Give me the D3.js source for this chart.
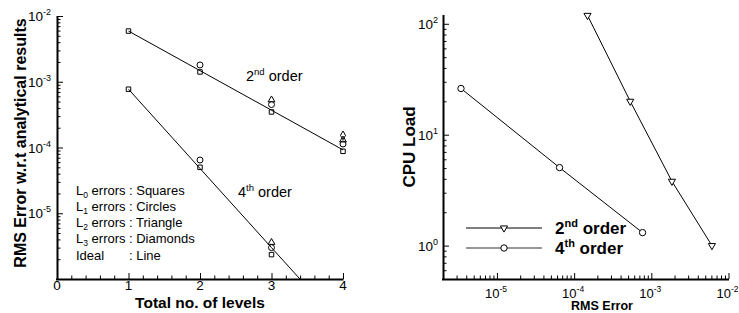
<!DOCTYPE html>
<html><head><meta charset="utf-8">
<script src="https://cdn.jsdelivr.net/npm/d3@7"></script>
<style>body{margin:0;background:#fff}svg{display:block}text{font-family:"Liberation Sans",Arial,Helvetica,sans-serif;fill:#000}</style>
</head><body>
<script>
// ---- Left chart data ----
const levels = [1, 2, 3, 4];
const L0_squares = [5.9e-3, 1.41e-3, 3.47e-4, 8.75e-5];
const L1_circles = [null, 1.8e-3, 4.5e-4, 1.13e-4];
const L2_triangles = [null, null, 5.3e-4, 1.3e-4];
const L3_diamonds = [null, null, null, 1.53e-4];
const L0_squares4 = [7.7e-4, 5.0e-5, 2.35e-6, null];
const L1_circles4 = [null, 6.45e-5, 3.0e-6, null];
const L2_triangles4 = [null, null, 3.6e-6, null];
const ideal2nd = [5.9e-3, 1.475e-3, 3.69e-4, 9.2e-5];
const ideal4th = [7.7e-4, 4.8e-5, 3.0e-6, 1.9e-7];
const xTicksLeft = [0, 1, 2, 3, 4];
const yTicksLeft = [-2, -3, -4, -5];
const legendLeft = [["0", "Squares"], ["1", "Circles"], ["2", "Triangle"], ["3", "Diamonds"]];

// ---- Right chart data ----
const rms2nd = [1.49e-4, 5.33e-4, 1.85e-3, 6.1e-3];
const cpu2nd = [119, 20, 3.8, 1.0];
const rms4th = [3.42e-6, 6.47e-5, 7.7e-4];
const cpu4th = [26.1, 5.05, 1.31];
const xTicksRight = [-5, -4, -3, -2];
const yTicksRight = [0, 1, 2];

const W = 739, H = 313;
const svg = d3.select("body").append("svg").attr("width", W).attr("height", H);

function supLabel(sel, base, exp, fs, efs, dy) {
  sel.append("tspan").text(base).attr("font-size", fs);
  sel.append("tspan").text(exp).attr("font-size", efs).attr("dy", -dy);
}

// ================= LEFT CHART =================
const xL = d3.scaleLinear().domain([0, 4]).range([57, 343]);
const yL = d3.scaleLog().domain([1e-6, 1e-2]).range([279, 16]);
const gL = svg.append("g");
svg.append("clipPath").attr("id", "clipL").append("rect")
  .attr("x", 57).attr("y", 10).attr("width", 290).attr("height", 269);

const minorYL = [];
for (let e = -6; e < -2; e++) for (let m = 2; m <= 9; m++) minorYL.push(m * Math.pow(10, e));
gL.append("g").attr("transform", "translate(57,0)")
  .call(d3.axisLeft(yL).tickValues(minorYL).tickSize(-3.5).tickFormat(""))
  .call(g => g.select(".domain").remove());
gL.append("g").attr("transform", "translate(57,0)")
  .call(d3.axisLeft(yL).tickValues(yTicksLeft.map(e => Math.pow(10, e))).tickSize(-6).tickFormat(""))
  .call(g => g.select(".domain").attr("stroke-width", 2).attr("d", "M0.5,16V279"));
const minorXL = d3.range(0, 4.01, 0.2).filter(v => Math.abs(v - Math.round(v)) > 1e-6);
gL.append("g").attr("transform", "translate(0,279)")
  .call(d3.axisBottom(xL).tickValues(minorXL).tickSize(-3.5).tickFormat(""))
  .call(g => g.select(".domain").remove());
gL.append("g").attr("transform", "translate(0,279)")
  .call(d3.axisBottom(xL).tickValues(xTicksLeft).tickSize(-6).tickFormat(""))
  .call(g => g.select(".domain").attr("stroke-width", 2).attr("d", "M56,0.5H343.5"));
gL.selectAll(".tick line").attr("stroke", "#000");

gL.selectAll(".xlabL").data(xTicksLeft).join("text")
  .attr("x", d => xL(d)).attr("y", 290).attr("text-anchor", "middle")
  .attr("font-size", 13.5).text(d => d);
gL.selectAll(".ylabL").data(yTicksLeft).join("text")
  .attr("x", 51).attr("y", d => yL(Math.pow(10, d)) + 5).attr("text-anchor", "end")
  .each(function (d) { supLabel(d3.select(this), "10", String(d), 13.5, 9, 6); });

const lineL = d3.line().defined(d => d[1] != null).x(d => xL(d[0])).y(d => yL(d[1]));
gL.append("path").datum(levels.map((l, i) => [l, ideal2nd[i]]))
  .attr("d", lineL).attr("fill", "none").attr("stroke", "#000").attr("stroke-width", 1);
gL.append("path").datum(levels.map((l, i) => [l, ideal4th[i]]))
  .attr("d", lineL).attr("clip-path", "url(#clipL)").attr("fill", "none").attr("stroke", "#000").attr("stroke-width", 1);

function drawMarkers(vals, type, size) {
  const pts = levels.map((l, i) => [l, vals[i]]).filter(d => d[1] != null);
  gL.selectAll(null).data(pts).join("path")
    .attr("transform", d => `translate(${xL(d[0])},${yL(d[1])})`)
    .attr("d", d3.symbol().type(type).size(size))
    .attr("fill", "none").attr("stroke", "#000").attr("stroke-width", 1);
}
drawMarkers(L0_squares, d3.symbolSquare, 20);
drawMarkers(L0_squares4, d3.symbolSquare, 20);
drawMarkers(L1_circles, d3.symbolCircle, 28);
drawMarkers(L1_circles4, d3.symbolCircle, 28);
drawMarkers(L2_triangles, d3.symbolTriangle, 20);
drawMarkers(L2_triangles4, d3.symbolTriangle, 20);
drawMarkers(L3_diamonds, d3.symbolDiamond, 22);

const t2 = gL.append("text").attr("x", 246).attr("y", 81).attr("font-size", 14.5);
t2.append("tspan").text("2");
t2.append("tspan").text("nd").attr("font-size", 9.5).attr("dy", -6);
t2.append("tspan").text(" order").attr("dy", 6);
const t4 = gL.append("text").attr("x", 238).attr("y", 197).attr("font-size", 14.5);
t4.append("tspan").text("4");
t4.append("tspan").text("th").attr("font-size", 9.5).attr("dy", -6);
t4.append("tspan").text(" order").attr("dy", 6);

legendLeft.forEach((d, i) => {
  const y = 195 + i * 16;
  const t = gL.append("text").attr("x", 76).attr("y", y).attr("font-size", 13);
  t.append("tspan").text("L");
  t.append("tspan").text(d[0]).attr("font-size", 8.5).attr("dy", 2.5);
  t.append("tspan").text(" errors").attr("dy", -2.5);
  gL.append("text").attr("x", 129).attr("y", y).attr("font-size", 13).text(": " + d[1]);
});
gL.append("text").attr("x", 76).attr("y", 259.5).attr("font-size", 13).text("Ideal");
gL.append("text").attr("x", 129).attr("y", 259.5).attr("font-size", 13).text(": Line");

gL.append("text").attr("x", 200).attr("y", 308).attr("text-anchor", "middle")
  .attr("font-size", 15.5).attr("font-weight", "bold").text("Total no. of levels");
gL.append("text").attr("transform", "translate(26,143) rotate(-90)").attr("text-anchor", "middle")
  .attr("font-size", 16).attr("font-weight", "bold").text("RMS Error w.r.t analytical results");

// ================= RIGHT CHART =================
const xR = d3.scaleLog().domain([2e-6, 1e-2]).range([443, 728.5]);
const yR = d3.scaleLog().domain([0.5, 120]).range([279, 15]);
const gR = svg.append("g");

const minorYR = [];
for (let e = -1; e < 3; e++) for (let m = 2; m <= 9; m++) {
  const v = m * Math.pow(10, e);
  if (v >= 0.5 && v <= 120) minorYR.push(v);
}
gR.append("g").attr("transform", "translate(443,0)")
  .call(d3.axisLeft(yR).tickValues(minorYR).tickSize(-3.5).tickFormat(""))
  .call(g => g.select(".domain").remove());
gR.append("g").attr("transform", "translate(443,0)")
  .call(d3.axisLeft(yR).tickValues(yTicksRight.map(e => Math.pow(10, e))).tickSize(-6).tickFormat(""))
  .call(g => g.select(".domain").attr("stroke-width", 2).attr("d", "M0.5,15V279"));
const minorXR = [];
for (let e = -6; e < -2; e++) for (let m = 2; m <= 9; m++) {
  const v = m * Math.pow(10, e);
  if (v > 2e-6 && v < 1e-2) minorXR.push(v);
}
gR.append("g").attr("transform", "translate(0,279)")
  .call(d3.axisBottom(xR).tickValues(minorXR).tickSize(-3.5).tickFormat(""))
  .call(g => g.select(".domain").remove());
gR.append("g").attr("transform", "translate(0,279)")
  .call(d3.axisBottom(xR).tickValues(xTicksRight.map(e => Math.pow(10, e))).tickSize(-6).tickFormat(""))
  .call(g => g.select(".domain").attr("stroke-width", 2).attr("d", "M442,0.5H729"));
gR.selectAll(".tick line").attr("stroke", "#000");

gR.selectAll(".xlabR").data(xTicksRight).join("text")
  .attr("x", d => xR(Math.pow(10, d)) - 1).attr("y", 298).attr("text-anchor", "middle")
  .each(function (d) { supLabel(d3.select(this), "10", String(d), 13, 8.5, 6); });
gR.selectAll(".ylabR").data(yTicksRight).join("text")
  .attr("x", 438).attr("y", d => yR(Math.pow(10, d)) + 5).attr("text-anchor", "end")
  .each(function (d) { supLabel(d3.select(this), "10", String(d), 13.5, 9, 6); });

const lineR = d3.line().x(d => xR(d[0])).y(d => yR(d[1]));
const d2 = rms2nd.map((v, i) => [v, cpu2nd[i]]);
const d4 = rms4th.map((v, i) => [v, cpu4th[i]]);
gR.append("path").datum(d2).attr("d", lineR).attr("fill", "none").attr("stroke", "#000");
gR.append("path").datum(d4).attr("d", lineR).attr("fill", "none").attr("stroke", "#000");
const triDown = d3.symbol().type(d3.symbolTriangle).size(22);
gR.selectAll(null).data(d2).join("path")
  .attr("transform", d => `translate(${xR(d[0])},${yR(d[1])}) rotate(180)`)
  .attr("d", triDown).attr("fill", "#fff").attr("stroke", "#000");
gR.selectAll(null).data(d4).join("path")
  .attr("transform", d => `translate(${xR(d[0])},${yR(d[1])})`)
  .attr("d", d3.symbol().type(d3.symbolCircle).size(32)).attr("fill", "#fff").attr("stroke", "#000");

const legR = [{y: 228, sym: "tri", n: "2", s: "nd"}, {y: 248, sym: "circ", n: "4", s: "th"}];
legR.forEach(d => {
  gR.append("line").attr("x1", 466).attr("x2", 542).attr("y1", d.y).attr("y2", d.y)
    .attr("stroke", d.sym === "tri" ? "#000" : "#333").attr("stroke-width", 1.2);
  if (d.sym === "tri") {
    gR.append("path").attr("transform", `translate(504,${d.y}) rotate(180)`).attr("d", triDown)
      .attr("fill", "#fff").attr("stroke", "#000");
  } else {
    gR.append("path").attr("transform", `translate(504,${d.y})`)
      .attr("d", d3.symbol().type(d3.symbolCircle).size(32)).attr("fill", "#fff").attr("stroke", "#000");
  }
  const t = gR.append("text").attr("x", 555).attr("y", d.y + 6).attr("font-size", 17).attr("font-weight", "bold");
  t.append("tspan").text(d.n);
  t.append("tspan").text(d.s).attr("font-size", 11).attr("dy", -7);
  t.append("tspan").text(" order").attr("dy", 7);
});

gR.append("text").attr("x", 602).attr("y", 310).attr("text-anchor", "middle")
  .attr("font-size", 12.5).attr("font-weight", "bold").text("RMS Error");
gR.append("text").attr("transform", "translate(415,147) rotate(-90)").attr("text-anchor", "middle")
  .attr("font-size", 17).attr("font-weight", "bold").text("CPU Load");
</script>
</body></html>
